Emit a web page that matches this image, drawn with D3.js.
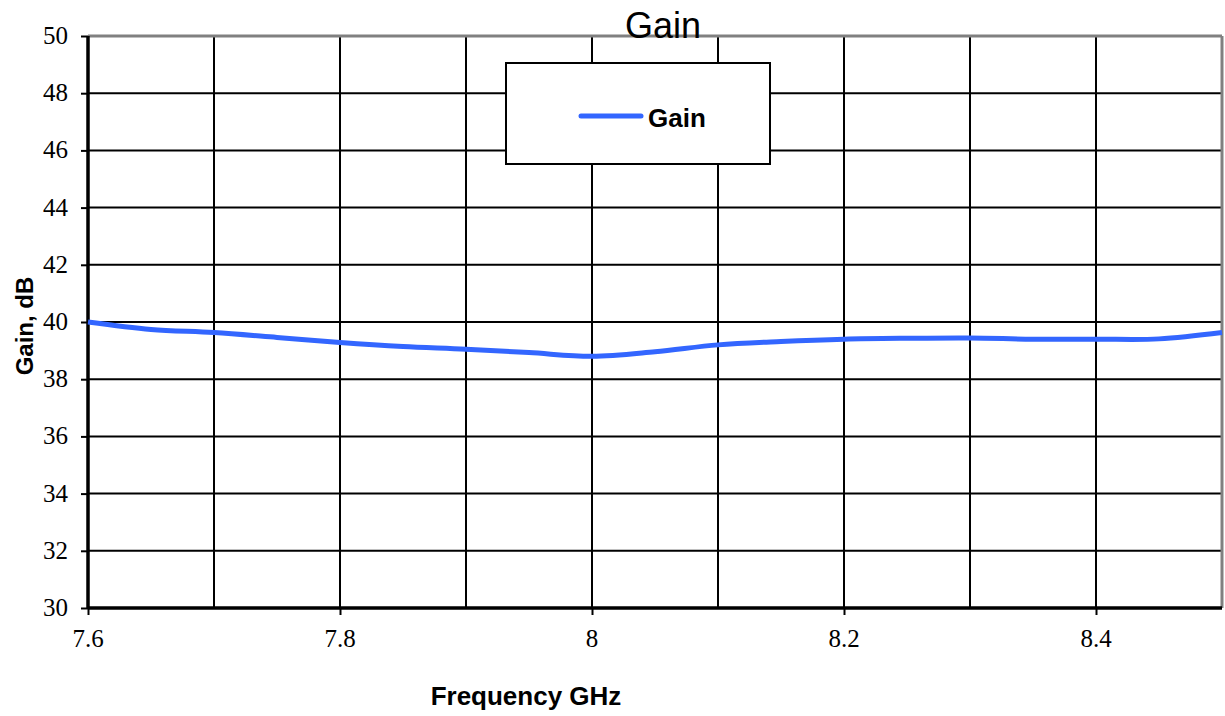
<!DOCTYPE html>
<html>
<head>
<meta charset="utf-8">
<script src="https://cdn.jsdelivr.net/npm/d3@7"></script>
<style>
  body { margin: 0; background: #fff; }
  svg { display: block; }
</style>
</head>
<body>
<script>
// data
var freq = [7.60, 7.65, 7.70, 7.75, 7.80, 7.85, 7.90, 7.95, 8.00, 8.05, 8.10, 8.15, 8.20, 8.25, 8.30, 8.35, 8.40, 8.45, 8.50];
var gain = [40.00, 39.74, 39.63, 39.46, 39.28, 39.14, 39.05, 38.93, 38.80, 38.96, 39.20, 39.32, 39.40, 39.43, 39.44, 39.40, 39.40, 39.41, 39.63];
var xTicks = [7.6, 7.8, 8.0, 8.2, 8.4];
var xTickLabels = ["7.6", "7.8", "8", "8.2", "8.4"];
var xGrid = [7.7, 7.8, 7.9, 8.0, 8.1, 8.2, 8.3, 8.4];
var yTicks = [30, 32, 34, 36, 38, 40, 42, 44, 46, 48, 50];

var W = 1225, H = 716;
var margin = { top: 36, right: 3, bottom: 108, left: 88 };
var width = W - margin.left - margin.right;
var height = H - margin.top - margin.bottom;
var serif = "'Liberation Serif', 'Times New Roman', Times, serif";
var sans = "'Liberation Sans', Arial, sans-serif";

var svg = d3.select("body").append("svg").attr("width", W).attr("height", H);
var g = svg.append("g").attr("transform", "translate(" + margin.left + "," + margin.top + ")");

var x = d3.scaleLinear().domain([7.6, 8.5]).range([0, width]);
var y = d3.scaleLinear().domain([30, 50]).range([height, 0]);

// grid
g.selectAll("line.hgrid").data(yTicks.filter(function(d) { return d > 30 && d < 50; })).enter().append("line")
  .attr("x1", 0).attr("x2", width)
  .attr("y1", function(d) { return y(d); }).attr("y2", function(d) { return y(d); })
  .style("stroke", "#000").style("stroke-width", 2);

g.selectAll("line.vgrid").data(xGrid).enter().append("line")
  .attr("y1", 0).attr("y2", height)
  .attr("x1", function(d) { return x(d); }).attr("x2", function(d) { return x(d); })
  .style("stroke", "#000").style("stroke-width", 2);

// top and right border (grey)
g.append("line").attr("x1", 0).attr("x2", width).attr("y1", 0).attr("y2", 0)
  .style("stroke", "#808080").style("stroke-width", 3);
g.append("line").attr("x1", width).attr("x2", width).attr("y1", 0).attr("y2", height)
  .style("stroke", "#808080").style("stroke-width", 3);

// axes (ticks only, labels drawn below)
var ya = g.append("g").call(d3.axisLeft(y).tickValues(yTicks).tickSize(7).tickFormat(""));
var xa = g.append("g").attr("transform", "translate(0," + height + ")")
  .call(d3.axisBottom(x).tickValues(xTicks).tickSize(7).tickFormat(""));

[ya, xa].forEach(function(a) {
  a.select(".domain").style("stroke", "#000").style("stroke-width", 3.5);
  a.selectAll(".tick line").style("stroke", "#000").style("stroke-width", 2);
});
ya.select(".domain").attr("d", "M0,0V" + height);
xa.select(".domain").attr("d", "M0,0H" + width);

g.selectAll("text.ylab").data(yTicks).enter().append("text")
  .attr("class", "ylab")
  .attr("x", -20).attr("y", function(d) { return y(d) + 8; })
  .attr("text-anchor", "end")
  .text(function(d) { return d; })
  .style("font-family", serif).style("font-size", "25px").style("fill", "#000");

g.selectAll("text.xlab").data(xTicks).enter().append("text")
  .attr("class", "xlab")
  .attr("x", function(d) { return x(d); }).attr("y", height + 39)
  .attr("text-anchor", "middle")
  .text(function(d, i) { return xTickLabels[i]; })
  .style("font-family", serif).style("font-size", "25px").style("fill", "#000");

// series
var line = d3.line()
  .x(function(d, i) { return x(freq[i]); })
  .y(function(d) { return y(d); })
  .curve(d3.curveCatmullRom.alpha(0.5));

g.append("path").datum(gain).attr("d", line)
  .style("fill", "none").style("stroke", "#3366FF").style("stroke-width", 5)
  .style("stroke-linejoin", "round");

// legend
var leg = svg.append("g").attr("transform", "translate(506,63)");
leg.append("rect").attr("width", 264).attr("height", 101)
  .style("fill", "#fff").style("stroke", "#000").style("stroke-width", 2);
leg.append("line").attr("x1", 75).attr("x2", 135).attr("y1", 53).attr("y2", 53)
  .style("stroke", "#3366FF").style("stroke-width", 5).style("stroke-linecap", "round");
leg.append("text").attr("x", 142).attr("y", 64).text("Gain")
  .style("font-family", sans).style("font-weight", "bold")
  .style("font-size", "26px").style("fill", "#000");

// title
svg.append("text").attr("x", 663).attr("y", 38).attr("text-anchor", "middle").text("Gain")
  .style("font-family", sans).style("font-size", "36px").style("fill", "#000");

// axis titles
svg.append("text").attr("x", 526).attr("y", 705).attr("text-anchor", "middle").text("Frequency GHz")
  .style("font-family", sans).style("font-weight", "bold")
  .style("font-size", "26px").style("fill", "#000");

svg.append("text").attr("transform", "translate(33,326) rotate(-90)").attr("text-anchor", "middle").text("Gain, dB")
  .style("font-family", sans).style("font-weight", "bold")
  .style("font-size", "24px").style("fill", "#000");
</script>
</body>
</html>
